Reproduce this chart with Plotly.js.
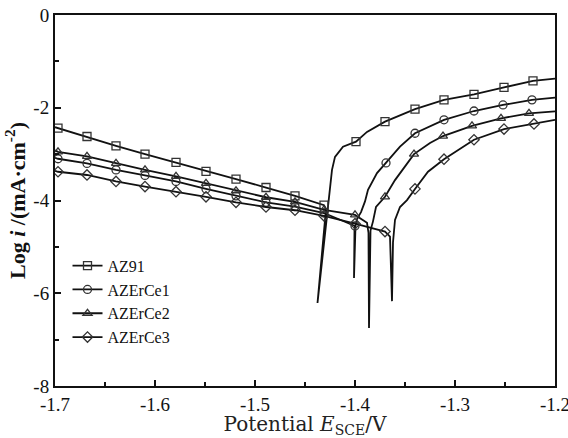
<!DOCTYPE html>
<html>
<head>
<meta charset="utf-8">
<script src="https://cdn.plot.ly/plotly-3.0.1.min.js"></script>
<style>html,body{margin:0;padding:0;background:#fff;}#chart{width:568px;height:438px;}</style>
</head>
<body>
<div id="chart"></div>
<script>
// ---- Data (potential E vs SCE in V, log i in mA/cm2) ----
var seriesNames = ["AZ91", "AZErCe1", "AZErCe2", "AZErCe3"];
var seriesSymbols = ["square-open", "circle-open", "triangle-up-open", "diamond-open"];

// continuous curves
var az91E = [-1.700,-1.697,-1.668,-1.639,-1.610,-1.579,-1.549,-1.519,-1.489,-1.460,-1.431,-1.429,-1.4375,-1.428,-1.4265,-1.425,-1.423,-1.420,-1.412,-1.399,-1.388,-1.370,-1.340,-1.311,-1.281,-1.251,-1.222,-1.200];
var az91I = [-2.42,-2.44,-2.62,-2.82,-3.00,-3.18,-3.37,-3.54,-3.72,-3.90,-4.10,-4.18,-6.21,-4.25,-3.95,-3.66,-3.34,-3.06,-2.84,-2.73,-2.52,-2.30,-2.03,-1.83,-1.71,-1.56,-1.42,-1.37];

var ce1E = [-1.700,-1.697,-1.668,-1.639,-1.610,-1.579,-1.549,-1.519,-1.489,-1.460,-1.431,-1.400,-1.4005,-1.401,-1.3995,-1.398,-1.394,-1.390,-1.387,-1.378,-1.369,-1.355,-1.340,-1.311,-1.281,-1.252,-1.223,-1.200];
var ce1I = [-3.08,-3.10,-3.20,-3.34,-3.46,-3.59,-3.75,-3.90,-4.04,-4.13,-4.27,-4.55,-4.62,-5.67,-4.55,-4.40,-4.25,-4.02,-3.77,-3.41,-3.19,-2.84,-2.55,-2.26,-2.07,-1.94,-1.83,-1.78];

var ce2E = [-1.700,-1.697,-1.668,-1.639,-1.610,-1.579,-1.549,-1.519,-1.489,-1.460,-1.431,-1.400,-1.388,-1.3865,-1.386,-1.3845,-1.382,-1.379,-1.375,-1.370,-1.360,-1.341,-1.325,-1.312,-1.283,-1.254,-1.226,-1.200];
var ce2I = [-2.92,-2.95,-3.05,-3.20,-3.34,-3.48,-3.63,-3.79,-3.93,-4.03,-4.20,-4.31,-4.48,-4.70,-6.75,-4.65,-4.45,-4.14,-4.05,-3.92,-3.56,-3.00,-2.76,-2.61,-2.39,-2.23,-2.12,-2.08];

var ce3E = [-1.700,-1.697,-1.668,-1.639,-1.610,-1.579,-1.549,-1.519,-1.489,-1.460,-1.431,-1.400,-1.370,-1.365,-1.363,-1.362,-1.360,-1.355,-1.348,-1.340,-1.327,-1.311,-1.281,-1.251,-1.221,-1.200];
var ce3I = [-3.36,-3.38,-3.45,-3.59,-3.70,-3.81,-3.92,-4.04,-4.14,-4.21,-4.33,-4.50,-4.67,-4.78,-6.17,-4.90,-4.42,-4.14,-3.99,-3.75,-3.38,-3.11,-2.69,-2.46,-2.35,-2.26];

// marker positions
var az91ME = [-1.697,-1.668,-1.639,-1.610,-1.579,-1.549,-1.519,-1.489,-1.460,-1.431,-1.399,-1.370,-1.340,-1.311,-1.281,-1.251,-1.222];
var az91MI = [-2.44,-2.62,-2.82,-3.00,-3.18,-3.37,-3.54,-3.72,-3.90,-4.10,-2.73,-2.30,-2.03,-1.83,-1.71,-1.56,-1.42];
var ce1ME = [-1.697,-1.668,-1.639,-1.610,-1.579,-1.549,-1.519,-1.489,-1.460,-1.431,-1.400,-1.369,-1.340,-1.311,-1.281,-1.252,-1.223];
var ce1MI = [-3.10,-3.20,-3.34,-3.46,-3.59,-3.75,-3.90,-4.04,-4.13,-4.27,-4.55,-3.19,-2.55,-2.26,-2.07,-1.94,-1.83];
var ce2ME = [-1.697,-1.668,-1.639,-1.610,-1.579,-1.549,-1.519,-1.489,-1.460,-1.431,-1.400,-1.370,-1.341,-1.312,-1.283,-1.254,-1.226];
var ce2MI = [-2.95,-3.05,-3.20,-3.34,-3.48,-3.63,-3.79,-3.93,-4.03,-4.20,-4.31,-3.92,-3.00,-2.61,-2.39,-2.23,-2.12];
var ce3ME = [-1.697,-1.668,-1.639,-1.610,-1.579,-1.549,-1.519,-1.489,-1.460,-1.431,-1.400,-1.370,-1.340,-1.311,-1.281,-1.251,-1.221];
var ce3MI = [-3.38,-3.45,-3.59,-3.70,-3.81,-3.92,-4.04,-4.14,-4.21,-4.33,-4.50,-4.67,-3.75,-3.11,-2.69,-2.46,-2.35];

var xTickVals = [-1.7,-1.6,-1.5,-1.4,-1.3,-1.2];
var xTickText = ["-1.7","-1.6","-1.5","-1.4","-1.3","-1.2"];
var yTickVals = [0,-2,-4,-6,-8];
var yTickText = ["0","-2","-4","-6","-8"];

// ---- Build traces ----
var curves = [[az91E, az91I],[ce1E, ce1I],[ce2E, ce2I],[ce3E, ce3I]];
var marks = [[az91ME, az91MI],[ce1ME, ce1MI],[ce2ME, ce2MI],[ce3ME, ce3MI]];
var lineStyle = {color:"#111", width:1.8};
var markerStyle = function(sym){ return {symbol:sym, size:8, color:"#333", line:{color:"#333", width:1.3}}; };
var traces = [];
for (var k = 0; k < seriesNames.length; k++) {
  traces.push({x:curves[k][0], y:curves[k][1], mode:"lines", line:lineStyle, showlegend:false, hoverinfo:"skip"});
  traces.push({x:marks[k][0], y:marks[k][1], mode:"markers", marker:markerStyle(seriesSymbols[k]), showlegend:false});
}
for (var k = 0; k < seriesNames.length; k++) {
  traces.push({x:[null], y:[null], mode:"lines+markers", name:seriesNames[k], line:lineStyle, marker:markerStyle(seriesSymbols[k]), showlegend:true});
}

var serif = "Liberation Serif";
var layout = {
  width:568, height:438,
  margin:{l:55, r:13, t:15, b:52},
  paper_bgcolor:"#fff", plot_bgcolor:"#fff",
  font:{family:serif, size:18, color:"#111"},
  showlegend:true,
  legend:{x:0.025, y:0.37, xanchor:"left", yanchor:"top", bgcolor:"rgba(0,0,0,0)", font:{family:serif, size:16, color:"#111"}, tracegroupgap:0, itemwidth:30},
  xaxis:{
    range:[-1.7,-1.2], tickvals:xTickVals, ticktext:xTickText,
    ticks:"inside", ticklen:6, tickwidth:2, tickcolor:"#111",
    minor:{dtick:0.05, tick0:-1.7, ticks:"inside", ticklen:4, tickwidth:2, tickcolor:"#111"},
    showline:true, linecolor:"#111", linewidth:2, mirror:true,
    showgrid:false, zeroline:false, ticklabeloverflow:"allow",
    tickfont:{family:serif, size:19, color:"#111"},
    title:{text:"Potential <i>E</i><sub>SCE</sub>/V", font:{family:"DejaVu Serif", size:20, color:"#222"}, standoff:9}
  },
  yaxis:{
    range:[-8,0], tickvals:yTickVals, ticktext:yTickText,
    ticks:"inside", ticklen:6, tickwidth:2, tickcolor:"#111",
    minor:{dtick:1, tick0:0, ticks:"inside", ticklen:4, tickwidth:2, tickcolor:"#111"},
    showline:true, linecolor:"#111", linewidth:2, mirror:true,
    showgrid:false, zeroline:false,
    tickfont:{family:serif, size:19, color:"#111"},
    title:{text:"<b>Log <i>i</i> /(mA·cm<sup>-2</sup>)</b>", font:{family:serif, size:22, color:"#111"}, standoff:2}
  }
};

Plotly.newPlot("chart", traces, layout, {staticPlot:true, displayModeBar:false});
</script>
</body>
</html>
